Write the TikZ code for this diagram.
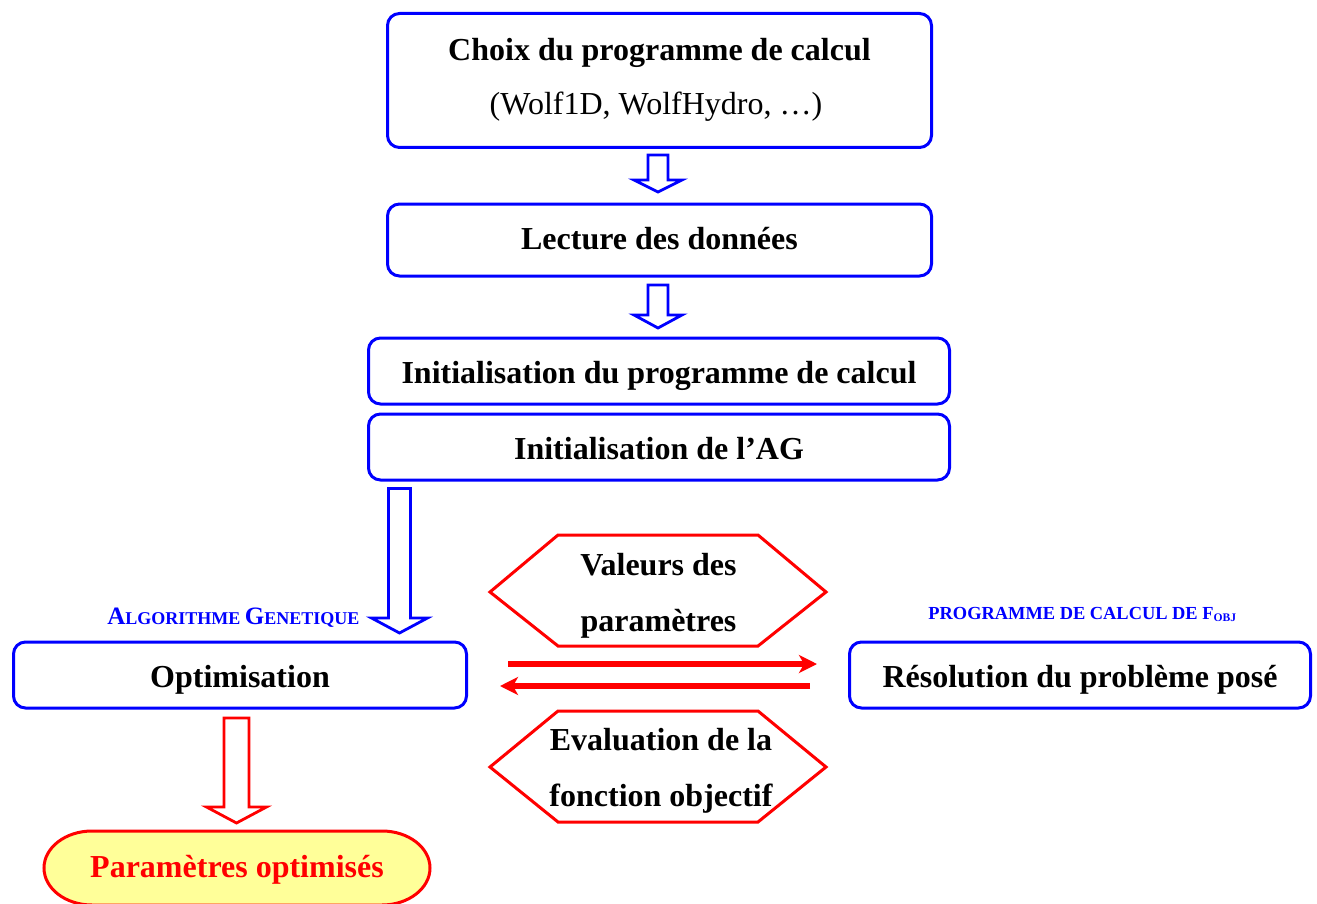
\documentclass[tikz,border=0pt]{standalone}
\usepackage{fontspec}
\setmainfont{Liberation Serif}
\usetikzlibrary{calc,arrows.meta,backgrounds}
\definecolor{bl}{RGB}{0,0,255}
\definecolor{rd}{RGB}{255,0,0}
\definecolor{yl}{RGB}{255,255,153}
\newcommand\blockdown[7]{% style, x, ytop, yhead, ytip, shaft half, head half
  \draw[#1] (#2-#6,#3) -- (#2+#6,#3) -- (#2+#6,#4) -- (#2+#7,#4) -- (#2,#5) -- (#2-#7,#4) -- (#2-#6,#4) -- cycle;}
\begin{document}
\begin{tikzpicture}[x=0.5pt,y=-0.5pt,
  box/.style={draw=bl, line width=1.5pt, rounded corners=6pt, inner sep=0pt,
    font=\bfseries\fontsize{16}{27.5}\selectfont, text height=15pt, text depth=2.5pt},
  txt/.style={inner sep=0pt, anchor=base},
  hex/.style={draw=rd, line width=1.5pt},
  hextxt/.style={align=center, inner sep=0pt, font=\bfseries\fontsize{16}{28}\selectfont},
  blockb/.style={draw=bl, line width=1.4pt, fill=white, line join=miter},
  blockr/.style={draw=rd, line width=1.4pt, fill=white, line join=miter},
  flow/.style={draw=rd, line width=3pt, -{Stealth[length=9pt,width=9pt,inset=2.5pt]}},
  lbl/.style={text=bl, font=\bfseries, inner sep=0pt, anchor=base west}]
\useasboundingbox (0,0) rectangle (1317,904);

% top box
\node[box, minimum width=272pt, minimum height=67pt, text height=, text depth=] (choix) at (659.5,80.5) {};
\node[txt, font=\bfseries\fontsize{16}{20}\selectfont] (choixA) at (659.5,61) {Choix du programme de calcul};
\node[txt, font=\fontsize{16}{20}\selectfont] (choixB) at (656,115) {(Wolf1D, WolfHydro, …)};

\node[box, minimum width=272pt, minimum height=36pt, text height=13pt, text depth=4pt] (lect) at (659.5,240) {Lecture des données};
\node[box, minimum width=290.5pt, minimum height=33pt] (init1) at (659,371) {Initialisation du programme de calcul};
\node[box, minimum width=290.5pt, minimum height=33pt] (init2) at (659,447) {Initialisation de l’AG};
\node[box, minimum width=226.5pt, minimum height=33pt] (opt) at (240,675) {Optimisation};
\node[box, minimum width=230.5pt, minimum height=33pt] (reso) at (1080,675) {Résolution du problème posé};

% block arrows
\blockdown{blockb}{658}{155}{180}{192}{10}{24}
\blockdown{blockb}{658}{285}{315}{328}{10}{24}
\blockdown{blockb}{399.5}{488.5}{618}{633}{11}{28}
\blockdown{blockr}{236.5}{718}{807}{823}{12.5}{30}

% labels
\node[lbl] (algl) at (107,624) {{\fontsize{12.5}{14}\selectfont A}{\fontsize{9}{11}\selectfont LGORITHME }{\fontsize{12.5}{14}\selectfont G}{\fontsize{9}{11}\selectfont ENETIQUE}};
\node[lbl] (progl) at (928,619) {\fontsize{9.2}{11}\selectfont PROGRAMME DE CALCUL DE F\raisebox{-1.2pt}{\fontsize{5.8}{6}\selectfont OBJ}};

% hexagons
\node[hextxt] (vp) at (658.5,596) {Valeurs des\\paramètres};
\draw[hex] ($(vp)+(-168.5,-4)$) -- ($(vp)+(-100.5,-61)$) -- ($(vp)+(99.5,-61)$) -- ($(vp)+(167.5,-4)$) -- ($(vp)+(99.5,50)$) -- ($(vp)+(-100.5,50)$) -- cycle;
\node[hextxt] (ef) at (661,771) {Evaluation de la\\fonction objectif};
\draw[hex] ($(ef)+(-171,-4)$) -- ($(ef)+(-103,-60)$) -- ($(ef)+(97,-60)$) -- ($(ef)+(165,-4)$) -- ($(ef)+(97,51)$) -- ($(ef)+(-103,51)$) -- cycle;

% exchange arrows
\coordinate (a1) at ($(opt.east)+(40,-11)$);
\coordinate (a2) at ($(reso.west)+(-31,-11)$);
\coordinate (b1) at ($(reso.west)+(-38,11)$);
\coordinate (b2) at ($(opt.east)+(32,11)$);
\draw[flow] (a1) -- (a2);
\draw[flow] (b1) -- (b2);

% result
\node[inner sep=0pt, text=rd, font=\bfseries\fontsize{16}{20}\selectfont] (po) at (237,870) {Paramètres optimisés};
\begin{scope}[on background layer]
\draw[draw=rd, fill=yl, line width=1.5pt] ($(po)+(-145,-39)$) -- ($(po)+(145,-39)$)
  arc[start angle=90,end angle=-90,x radius=24pt,y radius=18.5pt]
  -- ($(po)+(-145,35)$)
  arc[start angle=270,end angle=90,x radius=24pt,y radius=18.5pt] -- cycle;
\end{scope}
\end{tikzpicture}
\end{document}
